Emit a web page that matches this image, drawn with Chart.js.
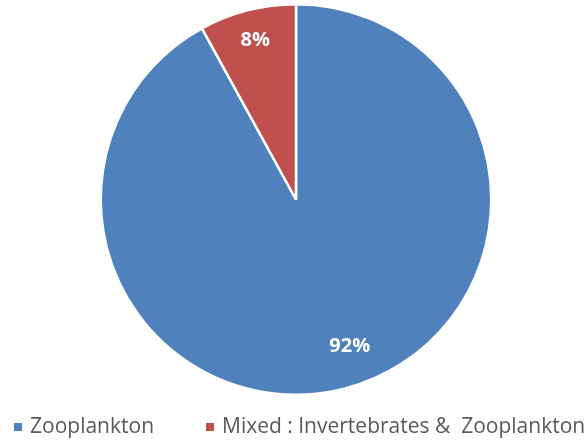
<!DOCTYPE html>
<html>
<head>
<meta charset="utf-8">
<script src="https://cdn.jsdelivr.net/npm/chart.js@4"></script>
<style>
  html, body { margin: 0; padding: 0; background: #fff; }
  #wrap { width: 588px; height: 441px; position: relative; }
</style>
</head>
<body>
<div id="wrap"><canvas id="dietChart"></canvas></div>
<script>
const categories = ['Zooplankton', 'Mixed : Invertebrates &  Zooplankton'];
const shares = [92, 8];
const sliceColors = ['#4F81BD', '#C0504D'];

// percentage text inside each slice
const sliceLabels = {
    id: 'sliceLabels',
    afterDatasetsDraw(chart) {
        const ctx = chart.ctx;
        const meta = chart.getDatasetMeta(0);
        const total = shares.reduce((a, b) => a + b, 0);
        ctx.save();
        ctx.fillStyle = '#ffffff';
        ctx.font = 'bold 20px "Open Sans"';
        ctx.textAlign = 'center';
        ctx.textBaseline = 'middle';
        meta.data.forEach((arc, i) => {
            const p = arc.getProps(['x', 'y', 'startAngle', 'endAngle', 'outerRadius'], true);
            const small = shares[i] / total < 0.2;
            // big slice label sits a little off its middle, like best-fit placement
            const mid = (p.startAngle + p.endAngle) / 2 - (small ? 0 : 0.1);
            const r = p.outerRadius * (small ? 0.84 : 0.8);
            const pct = Math.round(shares[i] / total * 100) + '%';
            ctx.fillText(pct, p.x + Math.cos(mid) * r, p.y + Math.sin(mid) * r);
        });
        ctx.restore();
    }
};

// legend row along the bottom
const bottomLegend = {
    id: 'bottomLegend',
    afterDraw(chart) {
        const ctx = chart.ctx;
        const starts = [14, 206];
        const y = 427;
        ctx.save();
        ctx.font = '21px "Open Sans"';
        ctx.textBaseline = 'middle';
        ctx.textAlign = 'left';
        categories.forEach((name, i) => {
            ctx.fillStyle = sliceColors[i];
            ctx.fillRect(starts[i], y - 4, 8, 8);
            ctx.fillStyle = '#595959';
            ctx.fillText(name, starts[i] + 16, y);
        });
        ctx.restore();
    }
};

const ctx = document.getElementById('dietChart').getContext('2d');
const myChart = new Chart(ctx, {
    type: 'pie',
    data: {
        labels: categories,
        datasets: [{
            data: shares,
            backgroundColor: sliceColors,
            borderColor: '#ffffff',
            borderWidth: 2.5
        }]
    },
    options: {
        responsive: true,
        maintainAspectRatio: false,
        animation: false,
        layout: { padding: { top: 3, bottom: 45, left: 4, right: 0 } },
        plugins: {
            legend: { display: false },
            tooltip: { enabled: false }
        }
    },
    plugins: [sliceLabels, bottomLegend]
});
</script>
</body>
</html>
